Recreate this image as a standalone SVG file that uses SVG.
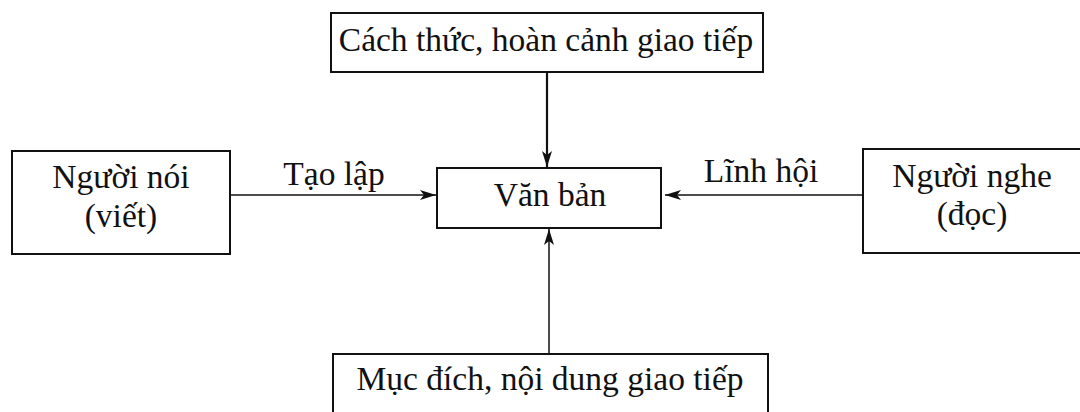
<svg xmlns="http://www.w3.org/2000/svg" width="1080" height="412" viewBox="0 0 1080 412">
<style>
.box{fill:#fff;stroke:#111;stroke-width:2}
.t{font-family:"Liberation Serif","DejaVu Serif",serif;font-size:33.5px;fill:#111;text-anchor:middle}
.c{stroke:#111;stroke-width:1.5;fill:none}
</style>
<defs>
<marker id="ah" markerWidth="16" markerHeight="10" refX="16" refY="5" orient="auto" markerUnits="userSpaceOnUse">
<path d="M0,0 L16,5 L0,10 L4,5 Z" fill="#111"/>
</marker>
</defs>
<rect width="1080" height="412" fill="#fff"/>
<g id="connectors">
<line class="c" x1="547" y1="72" x2="547" y2="167" marker-end="url(#ah)" style="stroke-width:2.2"/>
<line class="c" x1="230" y1="195" x2="436" y2="195" marker-end="url(#ah)"/>
<line class="c" x1="863" y1="195" x2="665" y2="195" marker-end="url(#ah)"/>
<line class="c" x1="549" y1="354" x2="549" y2="229" marker-end="url(#ah)"/>
<text class="t" x="334" y="185">Tạo lập</text>
<text class="t" x="761" y="182">Lĩnh hội</text>
</g>
<g id="top">
<rect class="box" x="331" y="13" width="432" height="59"/>
<text class="t" x="546" y="51">Cách thức, hoàn cảnh giao tiếp</text>
</g>
<g id="vanban">
<rect class="box" x="437" y="168" width="224" height="60"/>
<text class="t" x="550" y="206">Văn bản</text>
</g>
<g id="nguoinoi">
<rect class="box" x="12" y="151" width="218" height="103"/>
<text class="t" x="121" y="188">Người nói</text>
<text class="t" x="121" y="227">(viết)</text>
</g>
<g id="nguoinghe">
<rect class="box" x="863" y="149" width="230" height="104"/>
<text class="t" x="972" y="187">Người nghe</text>
<text class="t" x="972" y="225">(đọc)</text>
</g>
<g id="mucdich">
<rect class="box" x="333" y="354" width="435" height="70"/>
<text class="t" x="550" y="390">Mục đích, nội dung giao tiếp</text>
</g>
</svg>
